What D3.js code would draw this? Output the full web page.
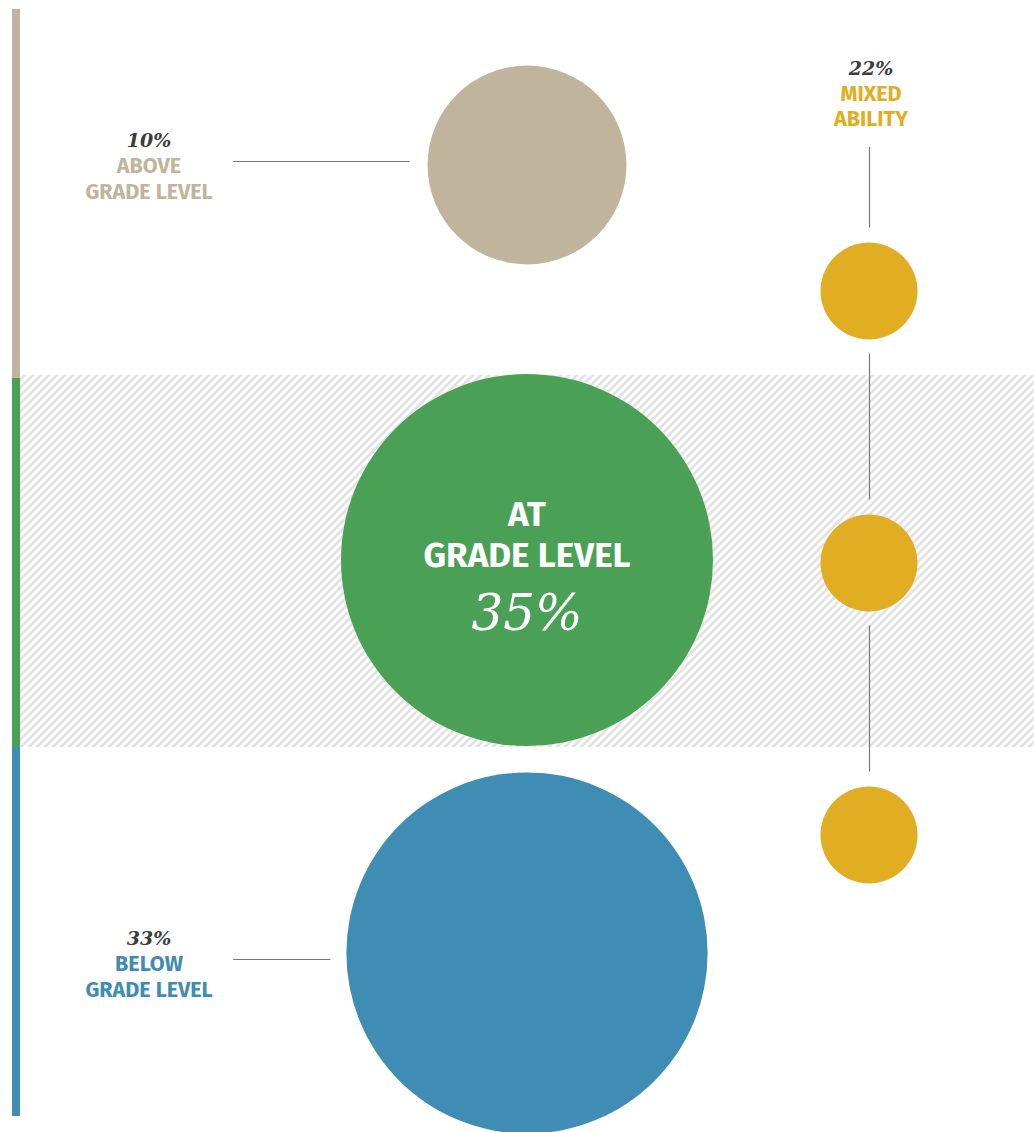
<!DOCTYPE html>
<html>
<head>
<meta charset="utf-8">
<script src="https://cdn.jsdelivr.net/npm/d3@7"></script>
<style>
  body { margin: 0; background: #fff; }
  svg { display: block; }
</style>
</head>
<body>
<div id="chart"></div>
<script>
// Groups and their shares
const groups = ['above', 'at', 'below'];
const groupLines = [['ABOVE', 'GRADE LEVEL'], ['AT', 'GRADE LEVEL'], ['BELOW', 'GRADE LEVEL']];
const groupValues = [10, 35, 33];
const mixedLines = ['MIXED', 'ABILITY'];
const mixedValue = 22;
const mixedDots = ['top', 'middle', 'bottom'];

const colors = { above: '#c0b59c', at: '#4aa054', below: '#3f8db4', mixed: '#e1ae23' };

const width = 1034, height = 1132;

const svg = d3.select('#chart').append('svg')
    .attr('width', width)
    .attr('height', height);

// Hatch pattern for the middle band
const defs = svg.append('defs');
const pat = defs.append('pattern')
    .attr('id', 'hatch')
    .attr('patternUnits', 'userSpaceOnUse')
    .attr('width', 8).attr('height', 8);
pat.append('path')
    .attr('d', 'M-2,2 L2,-2 M0,8 L8,0 M6,10 L10,6')
    .attr('stroke', '#e2e2e2')
    .attr('stroke-width', 2.8);

// Row scale
const y = d3.scaleBand()
    .domain(groups)
    .range([9, 1116]);

// Circle size: area proportional to share
const r = d3.scaleSqrt()
    .domain([0, 35])
    .range([0, 186]);

const cx = 527;
const circleY = { above: 165, at: 560, below: 953 };

// middle band
svg.append('rect')
    .attr('x', 20).attr('y', y('at') - 3)
    .attr('width', width - 20).attr('height', y.bandwidth() + 3)
    .attr('fill', 'url(#hatch)');

// left colour bar
svg.selectAll('.side')
    .data(groups)
    .enter().append('rect')
    .attr('class', 'side')
    .attr('x', 12)
    .attr('y', d => y(d))
    .attr('width', 8)
    .attr('height', y.bandwidth())
    .attr('fill', d => colors[d]);

// main circles
svg.selectAll('.bubble')
    .data(groups)
    .enter().append('circle')
    .attr('class', 'bubble')
    .attr('cx', cx)
    .attr('cy', d => circleY[d])
    .attr('r', (d, i) => r(groupValues[i]))
    .attr('fill', d => colors[d]);

// Side labels (above / below)
const sideLabels = [
    { key: 'above', i: 0, top: 140, lineY: 161.5, lineX2: cx - r(groupValues[0]) - 18 },
    { key: 'below', i: 2, top: 938, lineY: 959.5, lineX2: cx - r(groupValues[2]) - 16 }
];
const serif = '"DejaVu Serif", serif';
const sans = '"Fira Sans", "Open Sans", sans-serif';

sideLabels.forEach(s => {
    svg.append('text')
        .attr('x', 149).attr('y', s.top + 7)
        .attr('text-anchor', 'middle')
        .style('font-family', serif)
        .style('font-style', 'italic')
        .style('font-weight', 600)
        .style('font-size', '19px')
        .style('fill', '#3d3d3d')
        .text(groupValues[s.i] + '%');
    groupLines[s.i].forEach((t, j) => {
        svg.append('text')
            .attr('x', 149).attr('y', s.top + 33 + j * 26)
            .attr('text-anchor', 'middle')
            .style('font-family', sans)
            .style('font-weight', 700)
            .style('font-size', '21.5px')
            .style('fill', colors[s.key])
            .text(t);
    });
    svg.append('line')
        .attr('x1', 233).attr('x2', s.lineX2)
        .attr('y1', s.lineY).attr('y2', s.lineY)
        .attr('stroke', '#777').attr('stroke-width', 1.2);
});

// Label inside the big green circle
groupLines[1].forEach((t, j) => {
    svg.append('text')
        .attr('x', cx).attr('y', 526 + j * 41)
        .attr('text-anchor', 'middle')
        .style('font-family', sans)
        .style('font-weight', 700)
        .style('font-size', '35px')
        .style('fill', '#fff')
        .text(t);
});
svg.append('text')
    .attr('x', cx).attr('y', 630)
    .attr('text-anchor', 'middle')
    .style('font-family', serif)
    .style('font-style', 'italic')
    .style('font-size', '50px')
    .style('fill', '#fff')
    .text(groupValues[1] + '%');

// Mixed ability column
const mx = 869;
const dotY = d3.scalePoint()
    .domain(mixedDots)
    .range([291, 835]);
const dotR = 48.5;

svg.append('text')
    .attr('x', mx + 2).attr('y', 75)
    .attr('text-anchor', 'middle')
    .style('font-family', serif)
    .style('font-style', 'italic')
    .style('font-weight', 600)
    .style('font-size', '19px')
    .style('fill', '#3d3d3d')
    .text(mixedValue + '%');
mixedLines.forEach((t, j) => {
    svg.append('text')
        .attr('x', mx + 2).attr('y', 101 + j * 25)
        .attr('text-anchor', 'middle')
        .style('font-family', sans)
        .style('font-weight', 700)
        .style('font-size', '21.5px')
        .style('fill', colors.mixed)
        .text(t);
});

// connectors between label and dots
const stops = [147].concat(mixedDots.map(d => dotY(d)));
for (let k = 0; k < stops.length - 1; k++) {
    const a = k === 0 ? stops[k] : stops[k] + dotR + 14;
    const b = stops[k + 1] - dotR - 15;
    svg.append('line')
        .attr('x1', mx + 0.5).attr('x2', mx + 0.5)
        .attr('y1', a).attr('y2', b)
        .attr('stroke', '#777').attr('stroke-width', 1.2);
}

svg.selectAll('.dot')
    .data(mixedDots)
    .enter().append('circle')
    .attr('class', 'dot')
    .attr('cx', mx)
    .attr('cy', d => dotY(d))
    .attr('r', dotR)
    .attr('fill', colors.mixed);
</script>
</body>
</html>
